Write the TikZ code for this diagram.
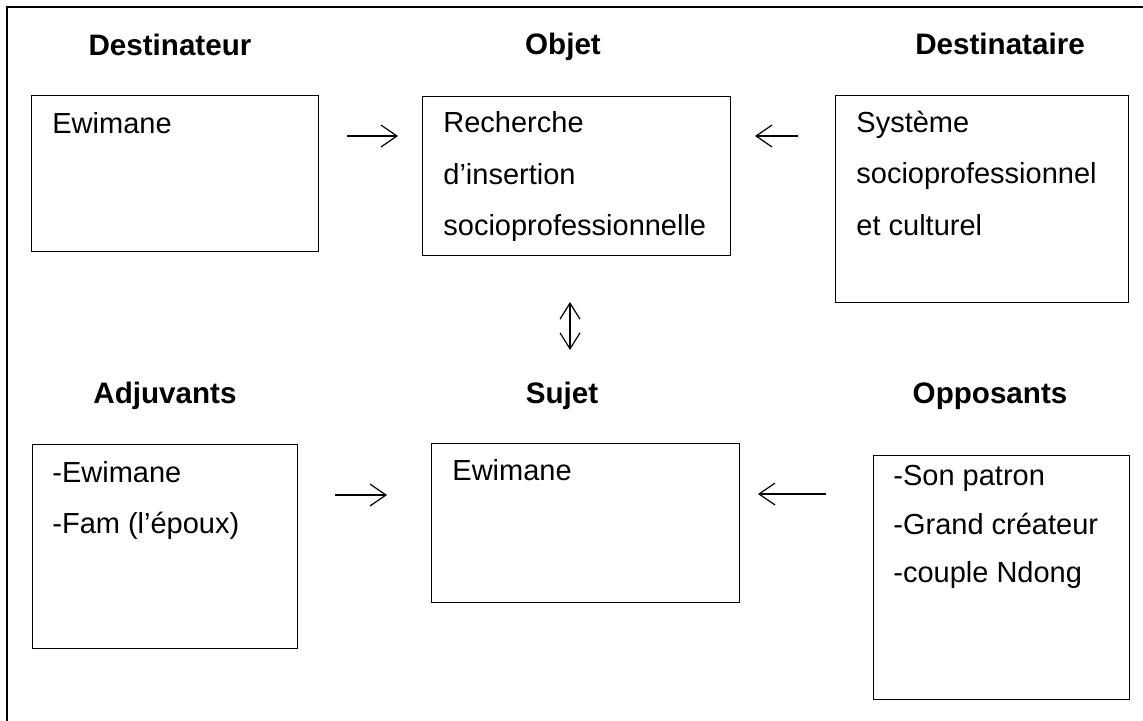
\documentclass[tikz,border=0pt]{standalone}
\usepackage{fontspec}
\setmainfont{Liberation Sans}
\usetikzlibrary{arrows.meta}
\begin{document}
\begin{tikzpicture}[x=0.5pt,y=-0.5pt,
  box/.style={draw, line width=0.7pt, inner sep=0pt, anchor=north west},
  lbl/.style={anchor=base west, inner sep=0pt, font=\fontsize{14.5pt}{17pt}\selectfont},
  ttl/.style={anchor=base, inner sep=0pt, font=\fontsize{14.8pt}{17pt}\selectfont\bfseries},
  arr/.style={line width=0.6pt, -{Straight Barb[length=8pt,width=11pt,line width=0.6pt]}},
  darr/.style={line width=0.6pt, {Straight Barb[length=8pt,width=10pt,line width=0.6pt]}-{Straight Barb[length=8pt,width=10pt,line width=0.6pt]}}]
\useasboundingbox (0,0) rectangle (1143,720);
% outer frame
\draw[line width=0.7pt] (1160,7) -- (7,7) -- (7,740);
% boxes
\node[box, minimum width=143.5pt, minimum height=78pt] (dest) at (31,95) {};
\node[box, minimum width=154pt, minimum height=79.5pt] (obj) at (422,96) {};
\node[box, minimum width=146.5pt, minimum height=103.5pt] (dtre) at (835,95) {};
\node[box, minimum width=132.5pt, minimum height=102pt] (adj) at (32,444) {};
\node[box, minimum width=154pt, minimum height=79.5pt] (suj) at (431,443) {};
\node[box, minimum width=128pt, minimum height=122pt] (opp) at (873,455) {};
% titles
\node[ttl] (tdest) at (170,55) {Destinateur};
\node[ttl] (tobj) at (563,54) {Objet};
\node[ttl] (tdtre) at (1000,54) {Destinataire};
\node[ttl] (tadj) at (165,403) {Adjuvants};
\node[ttl] (tsuj) at (562,403) {Sujet};
\node[ttl] (topp) at (990,403) {Opposants};
% texts
\node[lbl] (x1) at (52,133) {Ewimane};
\node[lbl] (x2) at (443,132) {Recherche};
\node[lbl] (x3) at (443,184) {d’insertion};
\node[lbl] (x4) at (443,235) {socioprofessionnelle};
\node[lbl] (x5) at (856,132) {Système};
\node[lbl] (x6) at (856,183) {socioprofessionnel};
\node[lbl] (x7) at (856,235) {et culturel};
\node[lbl] (x8) at (52,482) {-Ewimane};
\node[lbl] (x9) at (52,533) {-Fam (l’époux)};
\node[lbl] (x10) at (452,480) {Ewimane};
\node[lbl] (x11) at (893,485) {-Son patron};
\node[lbl] (x12) at (893,534) {-Grand créateur};
\node[lbl] (x13) at (893,582) {-couple Ndong};
% arrows
\coordinate (a1s) at (347,136); \coordinate (a1e) at (398,136);
\coordinate (a2s) at (798,136); \coordinate (a2e) at (755,136);
\coordinate (a3s) at (570,302); \coordinate (a3e) at (570,350);
\coordinate (a4s) at (335,495); \coordinate (a4e) at (387,495);
\coordinate (a5s) at (826,494); \coordinate (a5e) at (758,494);
\draw[arr] (a1s) -- (a1e);
\draw[arr] (a2s) -- (a2e);
\draw[darr] (a3s) -- (a3e);
\draw[arr] (a4s) -- (a4e);
\draw[arr] (a5s) -- (a5e);
\end{tikzpicture}
\end{document}
